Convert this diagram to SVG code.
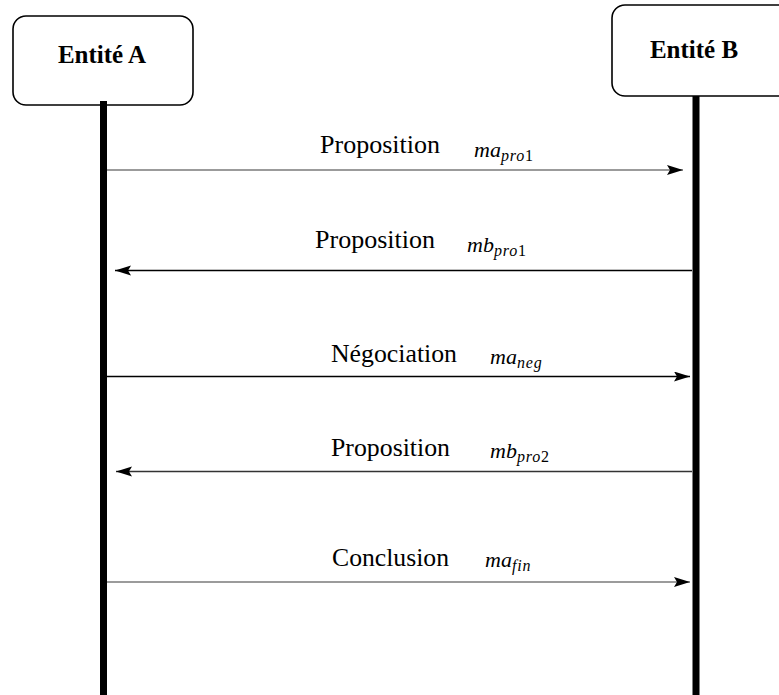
<svg xmlns="http://www.w3.org/2000/svg" width="779" height="695" viewBox="0 0 779 695">
  <style>
    .box { fill: #ffffff; stroke: #000000; stroke-width: 1.6; }
    .life { stroke: #000000; stroke-width: 7; }
    .title { font-family: "Liberation Serif", "Times New Roman", serif; font-weight: bold; font-size: 25px; fill: #000; }
    .lbl { font-family: "Liberation Serif", "Times New Roman", serif; font-size: 25.5px; fill: #000; }
    .math { font-family: "Liberation Serif", "Times New Roman", serif; font-style: italic; font-size: 22px; fill: #000; }
    .sub { font-family: "Liberation Serif", "Times New Roman", serif; font-style: italic; font-size: 16px; letter-spacing: 0.8px; fill: #000; }
    .subr { font-style: normal; }
    .msg { fill: none; stroke-width: 1.3; }
  </style>
  <defs>
    <marker id="ahR" markerUnits="userSpaceOnUse" markerWidth="18" markerHeight="12" refX="16" refY="5" orient="auto">
      <path d="M0,0 L16,5 L0,10 L3,5 z" fill="#000"/>
    </marker>
  </defs>

  <g id="entite-a">
    <rect class="box" x="13" y="16" width="180" height="89" rx="13" ry="13"/>
    <text class="title" x="102" y="63" text-anchor="middle">Entité A</text>
  </g>
  <g id="entite-b">
    <rect class="box" x="612" y="5" width="190" height="91" rx="13" ry="13"/>
    <text class="title" x="694" y="58" text-anchor="middle">Entité B</text>
  </g>

  <g id="lifelines">
    <line class="life" x1="103.5" y1="101" x2="103.5" y2="695"/>
    <line class="life" x1="696" y1="96" x2="696" y2="695"/>
  </g>

  <g id="connectors">
    <line class="msg" x1="107" y1="170" x2="683" y2="170" stroke="#7a7a7a" marker-end="url(#ahR)"/>
    <line class="msg" x1="692" y1="270.5" x2="115" y2="270.5" stroke="#000" marker-end="url(#ahR)"/>
    <line class="msg" x1="107" y1="376.5" x2="690" y2="376.5" stroke="#000" marker-end="url(#ahR)"/>
    <line class="msg" x1="692" y1="471.5" x2="116" y2="471.5" stroke="#333" marker-end="url(#ahR)"/>
    <line class="msg" x1="107" y1="582" x2="690" y2="582" stroke="#7a7a7a" marker-end="url(#ahR)"/>
  </g>

  <g id="labels">
    <text class="lbl" x="320" y="153" textLength="120" lengthAdjust="spacingAndGlyphs">Proposition</text>
    <text class="math" x="474" y="157">ma</text>
    <text class="sub" x="501" y="161">pro<tspan class="subr">1</tspan></text>

    <text class="lbl" x="315" y="248" textLength="120" lengthAdjust="spacingAndGlyphs">Proposition</text>
    <text class="math" x="467" y="252">mb</text>
    <text class="sub" x="494" y="256">pro<tspan class="subr">1</tspan></text>

    <text class="lbl" x="331" y="362" textLength="126" lengthAdjust="spacingAndGlyphs">Négociation</text>
    <text class="math" x="490" y="364">ma</text>
    <text class="sub" x="517" y="368">neg</text>

    <text class="lbl" x="331" y="456" textLength="119" lengthAdjust="spacingAndGlyphs">Proposition</text>
    <text class="math" x="490" y="458">mb</text>
    <text class="sub" x="517" y="462">pro<tspan class="subr">2</tspan></text>

    <text class="lbl" x="332" y="566" textLength="117" lengthAdjust="spacingAndGlyphs">Conclusion</text>
    <text class="math" x="485" y="567">ma</text>
    <text class="sub" x="512" y="571" letter-spacing="2">fin</text>
  </g>
</svg>
